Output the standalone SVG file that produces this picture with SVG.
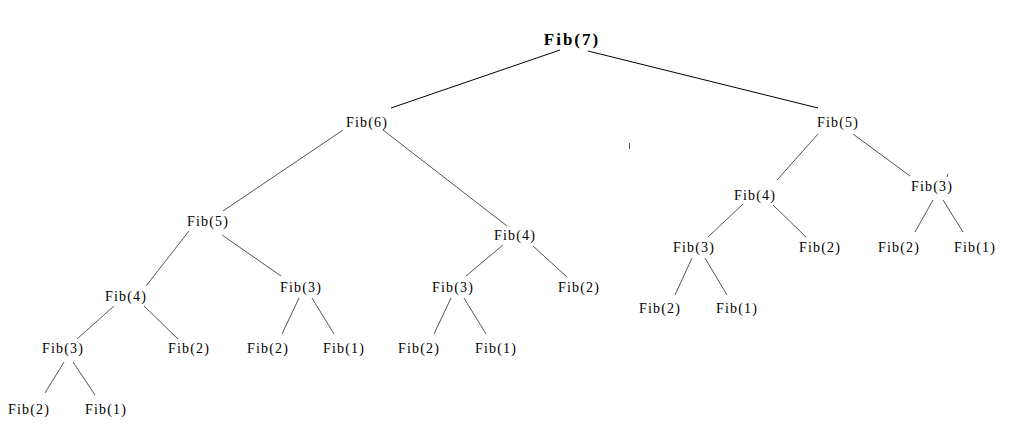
<svg xmlns="http://www.w3.org/2000/svg" width="1013" height="443" viewBox="0 0 1013 443">
<style>
text{font-family:"Liberation Serif","DejaVu Serif",serif;font-size:14px;letter-spacing:1.2px;text-anchor:middle;fill:#000}
.root{font-size:17px;font-weight:bold;letter-spacing:2px}
.e line{stroke:#555;stroke-width:1}
.e .k{stroke:#000}
</style>
<rect width="1013" height="443" fill="#fff"/>
<g class="e" id="connectors">
<line class="k" x1="560" y1="50" x2="391" y2="108"/>
<line class="k" x1="588" y1="51" x2="818" y2="108"/>
<line x1="343" y1="130" x2="223" y2="211"/>
<line x1="383" y1="130" x2="507" y2="226"/>
<line x1="818" y1="134" x2="777" y2="180"/>
<line x1="853" y1="134" x2="910" y2="176"/>
<line x1="189" y1="231" x2="146" y2="286"/>
<line x1="222" y1="235" x2="281" y2="276"/>
<line x1="503" y1="245" x2="466" y2="276"/>
<line x1="533" y1="246" x2="567" y2="277"/>
<line x1="743" y1="204" x2="708" y2="237"/>
<line x1="773" y1="205" x2="806" y2="237"/>
<line x1="933" y1="200" x2="915" y2="232"/>
<line x1="943" y1="200" x2="963" y2="232"/>
<line x1="114" y1="306" x2="77" y2="339"/>
<line x1="144" y1="306" x2="178" y2="339"/>
<line x1="299" y1="298" x2="282" y2="334"/>
<line x1="312" y1="298" x2="334" y2="334"/>
<line x1="451" y1="298" x2="434" y2="334"/>
<line x1="464" y1="298" x2="486" y2="334"/>
<line x1="692" y1="258" x2="675" y2="295"/>
<line x1="705" y1="258" x2="727" y2="295"/>
<line x1="64" y1="362" x2="45" y2="393"/>
<line x1="73" y1="362" x2="95" y2="395"/>
<line x1="629.5" y1="143" x2="629.5" y2="149"/>
<line x1="948" y1="174" x2="947" y2="177"/>
</g>
<g id="n7"><text class="root" x="572" y="45">Fib(7)</text></g>
<g id="n6"><text x="367" y="127">Fib(6)</text></g>
<g id="n5r"><text x="838" y="127">Fib(5)</text></g>
<g id="n5l"><text x="208" y="226">Fib(5)</text></g>
<g id="n4m"><text x="515" y="240">Fib(4)</text></g>
<g id="n4r"><text x="755" y="200">Fib(4)</text></g>
<g id="n3rr"><text x="932" y="191">Fib(3)</text></g>
<g id="n4l"><text x="126" y="301">Fib(4)</text></g>
<g id="n3a"><text x="301" y="292">Fib(3)</text></g>
<g id="n3b"><text x="453" y="292">Fib(3)</text></g>
<g id="n2a"><text x="579" y="292">Fib(2)</text></g>
<g id="n3r"><text x="694" y="252">Fib(3)</text></g>
<g id="n2b"><text x="820" y="252">Fib(2)</text></g>
<g id="n2c"><text x="899" y="252">Fib(2)</text></g>
<g id="n1c"><text x="975" y="252">Fib(1)</text></g>
<g id="n3l"><text x="63" y="353">Fib(3)</text></g>
<g id="n2d"><text x="189" y="353">Fib(2)</text></g>
<g id="n2e"><text x="268" y="353">Fib(2)</text></g>
<g id="n1e"><text x="344" y="353">Fib(1)</text></g>
<g id="n2f"><text x="419" y="353">Fib(2)</text></g>
<g id="n1f"><text x="496" y="353">Fib(1)</text></g>
<g id="n2g"><text x="660" y="313">Fib(2)</text></g>
<g id="n1g"><text x="737" y="313">Fib(1)</text></g>
<g id="n2h"><text x="29" y="414">Fib(2)</text></g>
<g id="n1h"><text x="106" y="414">Fib(1)</text></g>
</svg>
